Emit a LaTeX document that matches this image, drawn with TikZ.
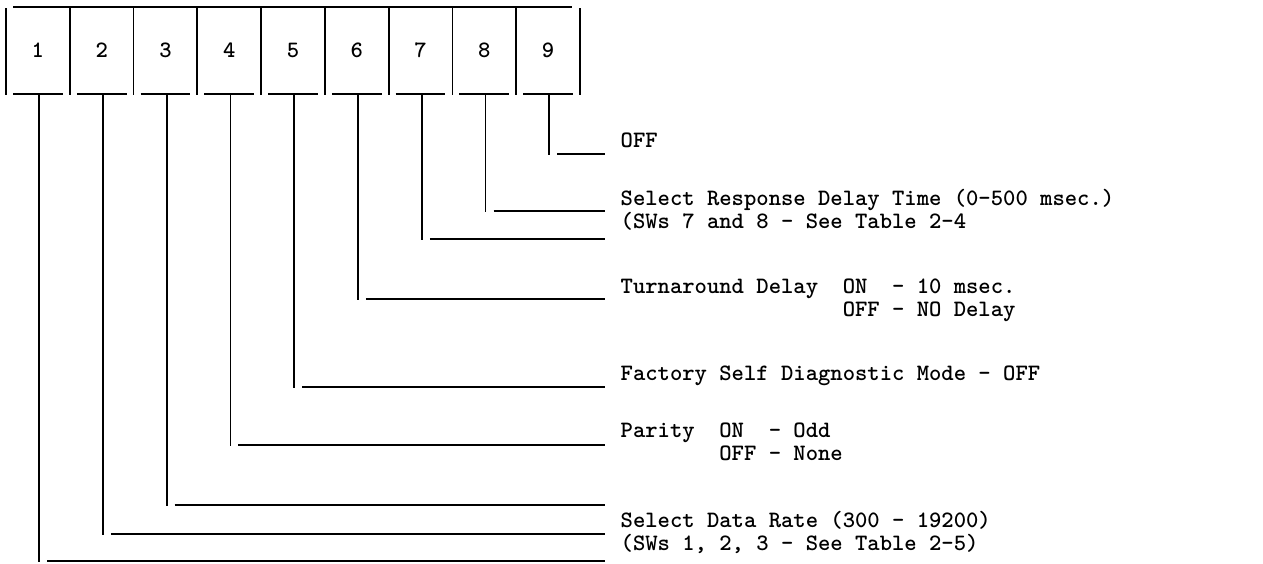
\documentclass[tikz,border=0pt]{standalone}
\usetikzlibrary{calc}
\newcommand{\labfont}{\fontsize{23.5pt}{23pt}\selectfont\ttfamily\bfseries\frenchspacing}
\tikzset{
  wire/.style={line width=1.8pt, line cap=butt},
  cell/.style={minimum width=63.78pt, minimum height=87pt, inner sep=0pt, font=\labfont},
  lbl/.style={anchor=base west, inner sep=0pt, font=\labfont}
}
\begin{document}
\begin{tikzpicture}[x=1pt,y=-1pt]
\useasboundingbox (0,0) rectangle (1263,563);
% switch frame
\draw[wire] (13,7) -- (572,7);
\foreach \i in {0,...,9}{
  \draw[wire] ({6+63.78*\i},8) -- ({6+63.78*\i},95);
}
\foreach \i in {0,...,8}{
  \draw[wire] ({6+63.78*\i+7},94) -- ({6+63.78*(\i+1)-7},94);
}
% switch cells
\foreach \i in {1,...,9}{
  \node[cell] (c\i) at ({6+63.78*(\i-0.5)},50.5) {\raisebox{-2pt}{\i}};
}
% labels
\node[lbl] (t9) at (620.5,147) {OFF};
\node[lbl] (t8) at (620.5,205) {Select Response Delay Time (0-500 msec.)};
\node[lbl] (t7) at (620.5,228) {(SWs 7 and 8 - See Table 2-4};
\node[lbl] (t6) at (620.5,293) {Turnaround Delay\ \ ON\ \ - 10 msec.};
\node[lbl] (t6b) at (620.5,316) {\phantom{Turnaround Delay\ \ }OFF - NO Delay};
\node[lbl] (t5) at (620.5,380) {Factory Self Diagnostic Mode - OFF};
\node[lbl] (t4) at (620.5,437) {Parity\ \ ON\ \ - Odd};
\node[lbl] (t4b) at (620.5,460) {\phantom{Parity\ \ }OFF - None};
\node[lbl] (t2) at (620.5,527) {Select Data Rate (300 - 19200)};
\node[lbl] (t1) at (620.5,550) {(SWs 1, 2, 3 - See Table 2-5)};
% line ends
\coordinate (e9) at (605,154);
\coordinate (e8) at (605,211);
\coordinate (e7) at (605,239);
\coordinate (e6) at (605,299);
\coordinate (e5) at (605,387);
\coordinate (e4) at (605,445);
\coordinate (e3) at (605,505);
\coordinate (e2) at (605,534);
\coordinate (e1) at (605,561);
% connectors
\foreach \i in {1,...,9}{
  \coordinate (s\i) at ($(c\i.south)+(1.2,0)$);
  \draw[wire] (s\i) -- ($(s\i |- e\i)+(0,1)$);
  \draw[wire] ($(s\i |- e\i)+(8,0)$) -- (e\i);
}
\end{tikzpicture}
\end{document}
